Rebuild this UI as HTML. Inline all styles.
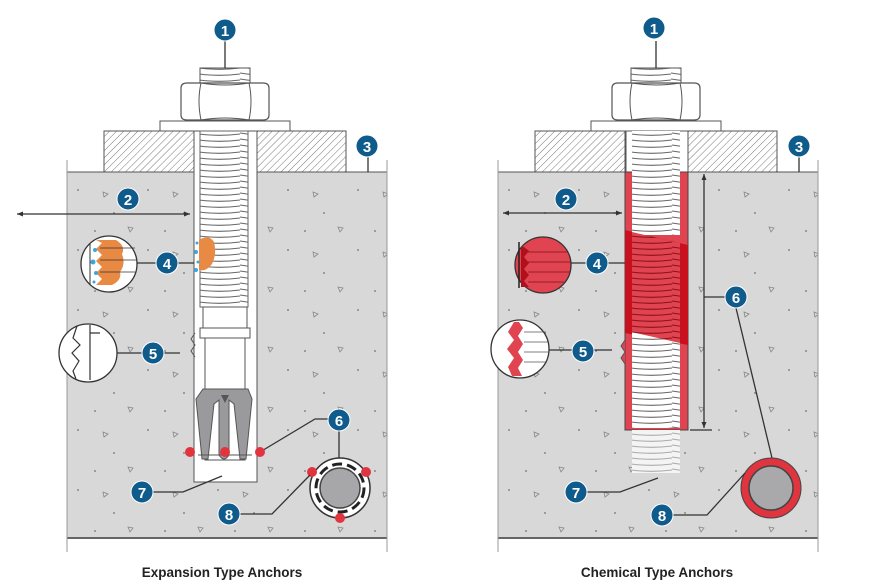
<!DOCTYPE html>
<html><head><meta charset="utf-8"><style>
html,body{margin:0;padding:0;background:#fff;}
svg{display:block}
text{font-family:"Liberation Sans",Arial,sans-serif;}
.lb circle{fill:#0f5b8c;stroke:#fff;stroke-width:1}
.lb text{fill:#fff;font-weight:bold;font-size:15px;text-anchor:middle}
.ln{stroke:#333;stroke-width:1.3;fill:none}
</style></head><body>
<svg width="885" height="588" viewBox="0 0 885 588" xmlns="http://www.w3.org/2000/svg">
<defs>
<pattern id="hatch" width="5" height="5" patternUnits="userSpaceOnUse" patternTransform="rotate(45)">
<rect width="5" height="5" fill="#fff"/><line x1="0" y1="0" x2="0" y2="5" stroke="#777" stroke-width="1"/></pattern>
<pattern id="thr" width="48" height="6" patternUnits="userSpaceOnUse">
<rect width="48" height="6" fill="#fff"/><path d="M0 1 Q24 5 48 2" stroke="#666" stroke-width="1.1" fill="none"/></pattern>
<pattern id="thrR" width="48" height="6" patternUnits="userSpaceOnUse">
<rect width="48" height="6" fill="#e04450"/><path d="M0 1 Q24 5 48 2" stroke="#8a1018" stroke-width="1.1" fill="none"/></pattern>
<pattern id="thrG" width="48" height="6" patternUnits="userSpaceOnUse">
<rect width="48" height="6" fill="#f4f4f4"/><path d="M0 1 Q24 5 48 2" stroke="#aaa" stroke-width="1.1" fill="none"/></pattern>
<pattern id="spk" width="70" height="60" patternUnits="userSpaceOnUse">
<rect width="70" height="60" fill="#d8d8d9"/>
<circle cx="8" cy="10" r="1" fill="#888"/><circle cx="44" cy="33" r="1" fill="#888"/><circle cx="25" cy="51" r="1" fill="#888"/>
<path d="M33 12 l5 2 l-4 3z" fill="none" stroke="#888" stroke-width="0.8"/>
<path d="M58 47 l5 1 l-3 4z" fill="none" stroke="#888" stroke-width="0.8"/>
</pattern>
<marker id="ar" markerUnits="userSpaceOnUse" markerWidth="7" markerHeight="6" refX="6" refY="3" orient="auto-start-reverse"><path d="M0 0.5 L6 3 L0 5.5z" fill="#333"/></marker>
<g id="top">
<path d="M200 68 h50 v15 h-50z" fill="url(#thr)" stroke="#555"/>
<path d="M181 88 q0 -5 6 -5 h76 q6 0 6 5 v27 q0 5 -6 5 h-76 q-6 0 -6 -5z" fill="#fff" stroke="#555" stroke-width="1.2"/>
<path d="M201 83 q-4 18 0 37 M249 83 q4 18 0 37 M201 83 q24 4 48 0 M201 120 q24 -4 48 0" stroke="#555" fill="none"/>
<rect x="160" y="121" width="130" height="10" fill="#fff" stroke="#555"/>
<rect x="104" y="131" width="90" height="41" fill="url(#hatch)" stroke="#555"/>
<rect x="257" y="131" width="89" height="41" fill="url(#hatch)" stroke="#555"/>
<rect x="67" y="172" width="320" height="366" fill="url(#spk)"/>
<line x1="67" y1="172" x2="387" y2="172" stroke="#555"/>
<line x1="67" y1="538" x2="387" y2="538" stroke="#666" stroke-width="2"/>
<line x1="67" y1="160" x2="67" y2="552" stroke="#999"/><line x1="387" y1="160" x2="387" y2="552" stroke="#999"/>
<line x1="225" y1="41" x2="225" y2="68" class="ln"/>
<line x1="368" y1="157" x2="368" y2="172" class="ln"/>
</g>
</defs>

<!-- LEFT -->
<use href="#top"/>
<rect x="194" y="131" width="63" height="351" fill="#fff" stroke="#555"/>
<rect x="200" y="131" width="48" height="176" fill="url(#thr)" stroke="#666"/>
<rect x="203" y="307" width="44" height="22" fill="#fff" stroke="#555"/>
<rect x="200" y="328" width="50" height="10" fill="#fff" stroke="#555"/>
<rect x="205" y="338" width="40" height="122" fill="#fff" stroke="#555"/>
<path d="M203 389 h45 l4 10 l-6 60 h-6 l-6 -55 l-5 -4 v55 q-5 8 -10 0 v-55 l-5 4 l-6 55 h-6 l-6 -60z" fill="#9a9a9d" stroke="#555"/>
<path d="M221 395 l8 0 l-4 8z" fill="#555"/>
<line x1="198" y1="455" x2="252" y2="455" stroke="#555"/>
<path d="M195 333 l-4 6 l4 6 l-4 6 l4 6" fill="none" stroke="#555"/>
<path d="M199 240 q10 -6 15 2 q3 12 -2 22 q-6 8 -13 6z" fill="#e88a44"/>
<g fill="#3aa6e0"><circle cx="197" cy="243" r="1.5"/><circle cx="196" cy="252" r="2"/><circle cx="198" cy="262" r="1.5"/><circle cx="196" cy="270" r="2"/></g>
<line x1="17" y1="214" x2="190" y2="214" class="ln" marker-end="url(#ar)" marker-start="url(#ar)"/>
<!-- magnifier 4 -->
<circle cx="109" cy="264" r="28" fill="#fff" stroke="#333" stroke-width="1.3"/>
<line x1="90" y1="243" x2="90" y2="285" stroke="#333"/>
<path d="M96 240 h20 q10 6 6 14 q4 10 -2 18 q2 8 -8 13 h-16 l6 -6 l-6 -6 l6 -6 l-6 -6 l6 -6 l-6 -6 l6 -6z" fill="#e88a44"/>
<g fill="#3aa6e0"><circle cx="95" cy="250" r="2"/><circle cx="93" cy="262" r="2.5"/><circle cx="96" cy="273" r="2"/><circle cx="94" cy="282" r="1.5"/></g>
<g stroke="#333" stroke-width="0.8"><line x1="100" y1="248" x2="135" y2="248"/><line x1="100" y1="260" x2="136" y2="260"/><line x1="100" y1="272" x2="135" y2="272"/></g>
<line x1="137" y1="263" x2="194" y2="263" class="ln"/>
<!-- magnifier 5 -->
<circle cx="88" cy="353" r="29" fill="#fff" stroke="#333" stroke-width="1.3"/>
<path d="M77 326 l-4 12 l7 7 l-8 8 l7 8 l-6 10 l3 8" fill="none" stroke="#333" stroke-width="1.2"/>
<path d="M90 325 v55 M90 333 h10" fill="none" stroke="#333" stroke-width="1.2"/>
<line x1="117" y1="353" x2="180" y2="353" class="ln"/>
<!-- 6,7,8 -->
<polyline points="260,452 315,419 328,419" class="ln"/>
<line x1="339" y1="430" x2="339" y2="460" class="ln"/>
<circle cx="340" cy="488" r="30" fill="#fff" stroke="#333" stroke-width="1.5"/>
<circle cx="340" cy="488" r="24" fill="none" stroke="#222" stroke-width="3" stroke-dasharray="10 5"/>
<circle cx="340" cy="488" r="20" fill="#a7a7aa" stroke="#444" stroke-width="1.5"/>
<g fill="#e0343f"><circle cx="190" cy="452" r="5"/><circle cx="225" cy="452" r="5"/><circle cx="260" cy="452" r="5"/><circle cx="312" cy="472" r="5"/><circle cx="366" cy="472" r="5"/><circle cx="340" cy="518" r="5"/></g>
<polyline points="152,492 183,492 222,476" class="ln"/>
<polyline points="240,514 272,514 310,475" class="ln"/>
<text x="222" y="577" font-size="13.5" font-weight="bold" text-anchor="middle" fill="#222">Expansion Type Anchors</text>

<!-- RIGHT -->
<g transform="translate(431,0)"><use href="#top"/></g>
<rect x="626" y="131" width="62" height="41" fill="#fff" stroke="#555"/>
<rect x="625" y="172" width="63" height="258" fill="#e04450" stroke="#444"/>
<path d="M625 230 L688 245 L688 345 L625 333z" fill="#c8101e"/>
<rect x="632" y="131" width="48" height="104" fill="url(#thr)"/>
<path d="M632 232 L680 243 L680 343 L632 332z" fill="url(#thrR)"/>
<path d="M632 332 L680 343 L680 428 L632 428z" fill="url(#thr)"/>
<rect x="632" y="430" width="48" height="43" fill="url(#thrG)"/>
<path d="M625 340 l-4 6 l4 6 l-4 6 l4 6" fill="#e04450" stroke="#555"/>
<line x1="503" y1="213" x2="622" y2="213" class="ln" marker-end="url(#ar)" marker-start="url(#ar)"/>
<line x1="704" y1="174" x2="704" y2="428" class="ln" marker-end="url(#ar)" marker-start="url(#ar)"/>
<line x1="690" y1="430" x2="712" y2="430" class="ln"/>
<line x1="704" y1="297" x2="725" y2="297" class="ln"/>
<line x1="736" y1="308" x2="772" y2="458" class="ln"/>
<!-- magnifier 4 right -->
<circle cx="543" cy="265" r="28" fill="#e04450" stroke="#333" stroke-width="1.3"/>
<path d="M521 247 v40 h8 l-5 -6 l5 -6 l-5 -6 l5 -6 l-5 -6 l5 -6 l-5 -4z" fill="#b0101c"/>
<g stroke="#7a1018" stroke-width="0.8"><line x1="528" y1="252" x2="568" y2="252"/><line x1="528" y1="262" x2="570" y2="262"/><line x1="528" y1="272" x2="570" y2="272"/><line x1="528" y1="282" x2="564" y2="282"/></g>
<line x1="519" y1="242" x2="519" y2="288" stroke="#222" stroke-width="1.5"/>
<line x1="571" y1="263" x2="625" y2="263" class="ln"/>
<!-- magnifier 5 right -->
<circle cx="520" cy="349" r="29" fill="#fff" stroke="#333" stroke-width="1.3"/>
<path d="M514 322 l-6 10 l6 8 l-7 9 l7 9 l-6 9 l4 9 h10 l-4 -8 l5 -8 l-5 -8 l5 -8 l-5 -8 l5 -8 l-4 -6z" fill="#e04450"/>
<g stroke="#555" stroke-width="0.8"><line x1="524" y1="332" x2="546" y2="332"/><line x1="524" y1="342" x2="548" y2="342"/><line x1="524" y1="352" x2="548" y2="352"/><line x1="524" y1="362" x2="547" y2="362"/></g>
<line x1="549" y1="350" x2="612" y2="350" class="ln"/>
<!-- ring right -->
<circle cx="771" cy="488" r="30" fill="#e0343f" stroke="#444"/>
<circle cx="771" cy="488" r="22" fill="#a9a9ab" stroke="#444" stroke-width="1.5"/>
<polyline points="585,492 620,492 658,478" class="ln"/>
<polyline points="672,515 707,515 745,473" class="ln"/>
<text x="657" y="577" font-size="13.5" font-weight="bold" text-anchor="middle" fill="#222">Chemical Type Anchors</text>

<!-- labels -->
<g class="lb">
<circle cx="225" cy="30" r="11"/><text x="225" y="36">1</text>
<circle cx="128" cy="199" r="11"/><text x="128" y="205">2</text>
<circle cx="367" cy="146" r="11"/><text x="367" y="152">3</text>
<circle cx="167" cy="263" r="11"/><text x="167" y="269">4</text>
<circle cx="153" cy="353" r="11"/><text x="153" y="359">5</text>
<circle cx="339" cy="420" r="11"/><text x="339" y="426">6</text>
<circle cx="142" cy="492" r="11"/><text x="142" y="498">7</text>
<circle cx="229" cy="514" r="11"/><text x="229" y="520">8</text>
<circle cx="654" cy="28" r="11"/><text x="654" y="34">1</text>
<circle cx="566" cy="199" r="11"/><text x="566" y="205">2</text>
<circle cx="799" cy="146" r="11"/><text x="799" y="152">3</text>
<circle cx="597" cy="263" r="11"/><text x="597" y="269">4</text>
<circle cx="583" cy="351" r="11"/><text x="583" y="357">5</text>
<circle cx="736" cy="297" r="11"/><text x="736" y="303">6</text>
<circle cx="576" cy="492" r="11"/><text x="576" y="498">7</text>
<circle cx="662" cy="515" r="11"/><text x="662" y="521">8</text>
</g>
</svg>
</body></html>
